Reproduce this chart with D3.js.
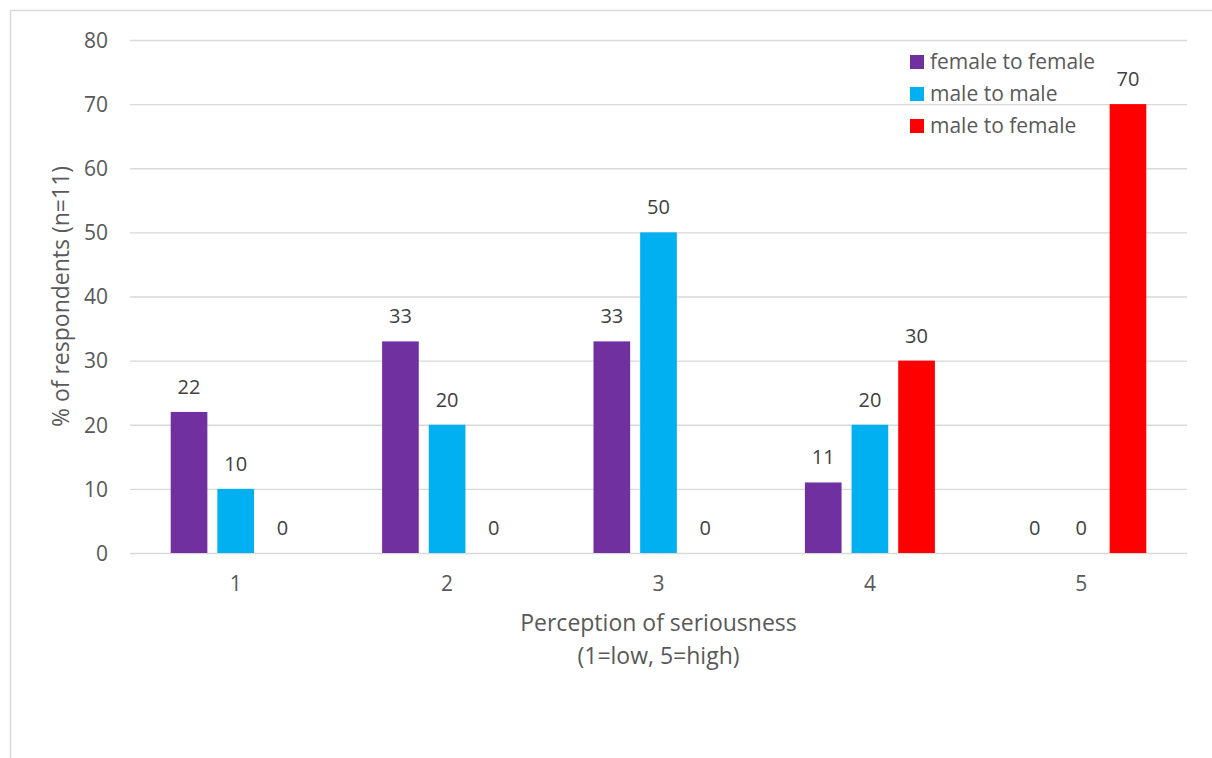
<!DOCTYPE html>
<html><head><meta charset="utf-8">
<script src="https://cdn.jsdelivr.net/npm/d3@7"></script>
<style>
html,body{margin:0;padding:0;background:#fff;}
svg text{font-family:"Open Sans","Noto Sans",sans-serif;}
</style></head>
<body>
<svg id="chart" width="1212" height="758"></svg>
<script>
const categories = ["1","2","3","4","5"];
const seriesNames = ["female to female","male to male","male to female"];
const femaleToFemale = [22,33,33,11,0];
const maleToMale = [10,20,50,20,0];
const maleToFemale = [0,0,0,30,70];
const colors = ["#7030A0","#00B0F0","#FF0000"];
const yTicks = [0,10,20,30,40,50,60,70,80];
const yTitle = "% of respondents (n=11)";
const xTitle1 = "Perception of seriousness";
const xTitle2 = "(1=low, 5=high)";

const values = [femaleToFemale, maleToMale, maleToFemale];
const svg = d3.select("#chart");
const fsTick = 21, fsLabel = 20, fsLegend = 21, fsTitle = 23;

// outer frame
svg.append("rect").attr("x",10.5).attr("y",10.5).attr("width",1230).attr("height",780)
  .attr("fill","none").attr("stroke","#d9d9d9").attr("stroke-width",1.5);

const x0 = d3.scaleBand().domain(categories).range([130,1187]).padding(0);
const groupW = 130;
const x1 = d3.scaleBand().domain(seriesNames)
  .range([(x0.bandwidth()-groupW)/2,(x0.bandwidth()+groupW)/2]).paddingInner(10/46.7).paddingOuter(0);
const y = d3.scaleLinear().domain([0,80]).range([553,40]);

// grid
const yAxis = d3.axisLeft(y).tickValues(yTicks).tickSize(-(1187-130)).tickPadding(22);
const gy = svg.append("g").attr("transform","translate(130,0)").call(yAxis);
gy.select(".domain").remove();
gy.selectAll(".tick line").attr("stroke","#d9d9d9").attr("stroke-width",1.3);
gy.selectAll(".tick text").attr("fill","#595959").style("font-size",fsTick+"px").attr("dy","0.35em");

// x axis labels
const xAxis = d3.axisBottom(x0).tickSize(0).tickPadding(23);
const gx = svg.append("g").attr("transform","translate(0,553)").call(xAxis);
gx.select(".domain").remove();
gx.selectAll(".tick text").attr("fill","#595959").style("font-size",fsTick+"px");

// bars
const groups = svg.append("g").selectAll("g").data(categories).join("g")
  .attr("transform",d=>`translate(${x0(d)},0)`);
groups.each(function(c,ci){
  const g = d3.select(this);
  seriesNames.forEach((s,si)=>{
    const v = values[si][ci];
    if (v>0) {
      g.append("rect").attr("x",x1(s)).attr("width",x1.bandwidth())
        .attr("y",y(v)).attr("height",y(0)-y(v)).attr("fill",colors[si]);
    }
    g.append("text").attr("x",x1(s)+x1.bandwidth()/2).attr("y",y(v)-18)
      .attr("text-anchor","middle").attr("fill","#404040").style("font-size",fsLabel+"px").text(v);
  });
});

// axis titles
svg.append("text").attr("transform",`translate(69,${(40+553)/2}) rotate(-90)`)
  .attr("text-anchor","middle").attr("fill","#595959").style("font-size",fsTitle+"px").text(yTitle);
svg.append("text").attr("x",658.5).attr("y",631).attr("text-anchor","middle")
  .attr("fill","#595959").style("font-size",fsTitle+"px").text(xTitle1);
svg.append("text").attr("x",658.5).attr("y",664).attr("text-anchor","middle")
  .attr("fill","#595959").style("font-size",fsTitle+"px").text(xTitle2);

// legend
const lg = svg.append("g").selectAll("g").data(seriesNames).join("g")
  .attr("transform",(d,i)=>`translate(910,${62+i*32})`);
lg.append("rect").attr("x",0).attr("y",-7).attr("width",14).attr("height",14).attr("fill",(d,i)=>colors[i]);
lg.append("text").attr("x",20).attr("y",0).attr("dy","0.35em").attr("fill","#595959")
  .style("font-size",fsLegend+"px").text(d=>d);
</script>
</body></html>
